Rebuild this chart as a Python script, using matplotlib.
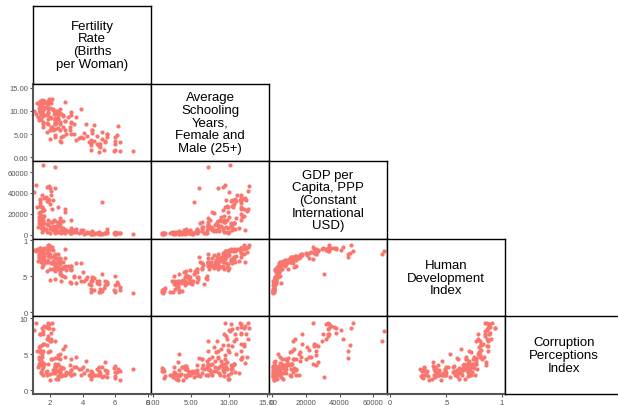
import matplotlib
matplotlib.use('Agg')
import matplotlib.pyplot as plt

plt.rcParams['font.family'] = ['Liberation Sans', 'DejaVu Sans']

# one value per country, same order in every list
fertility = [
    1.95, 1.90, 2.10, 2.05, 2.05, 1.75, 1.65, 1.95, 1.36, 1.37,
    1.22, 1.50, 2.00, 2.95, 1.85, 2.20, 1.84, 1.87, 1.40, 1.05,
    1.50, 1.41, 1.60, 1.40, 1.90, 1.15, 1.50, 1.55, 1.40, 1.80,
    1.40, 1.65, 1.50, 1.30, 2.00, 2.30, 2.50, 1.35, 1.40, 1.60,
    1.50, 1.90, 2.25, 2.30, 1.35, 1.65, 1.35, 1.45, 2.05, 2.60,
    2.50, 2.90, 2.30, 2.60, 1.50, 1.65, 1.40, 1.45, 1.90, 2.50,
    1.60, 1.55, 2.60, 2.20, 1.25, 1.45, 1.80, 1.45, 1.60, 1.85,
    1.55, 2.50, 1.74, 2.60, 2.80, 2.40, 2.30, 2.05, 3.60, 2.10,
    2.30, 3.90, 2.40, 2.60, 1.60, 2.30, 2.30, 1.60, 3.30, 2.30,
    3.30, 2.90, 3.10, 2.80, 1.50, 2.50, 2.80, 2.50, 2.30, 3.30,
    3.20, 2.00, 2.20, 2.70, 2.50, 3.00, 3.30, 1.80, 2.30, 2.60,
    4.00, 5.20, 2.60, 2.65, 6.00, 3.50, 2.80, 4.30, 2.90, 3.50,
    4.60, 3.80, 4.70, 2.30, 4.20, 4.60, 2.00, 5.00, 5.40, 4.60,
    4.50, 3.90, 2.70, 4.10, 4.90, 3.20, 5.50, 6.10, 4.90, 3.30,
    5.50, 3.60, 5.50, 4.40, 6.20, 5.00, 5.40, 6.00, 4.50, 6.30,
    5.30, 4.50, 5.10, 4.70, 6.30, 5.90, 5.20, 6.00, 5.10, 5.00,
    4.50, 7.10, 6.00]

schooling = [
    12.6, 12.0, 12.5, 12.4, 11.6, 11.6, 12.1, 11.6, 12.2, 11.6,
    11.6, 11.0, 10.6, 11.9, 10.3, 10.4, 10.9, 11.4, 10.4, 10.0,
    10.5, 9.7, 10.1, 10.8, 9.6, 9.4, 12.3, 11.6, 11.6, 9.2,
    9.9, 12.0, 9.9, 11.7, 8.6, 7.3, 9.4, 8.0, 10.0, 9.3,
    10.9, 9.7, 9.3, 6.1, 11.5, 10.6, 10.6, 9.0, 8.4, 7.3,
    9.4, 7.8, 8.5, 9.5, 10.6, 9.2, 10.2, 9.3, 8.3, 9.0,
    10.4, 8.8, 10.3, 10.2, 8.7, 11.3, 7.3, 8.2, 7.2, 7.2,
    12.1, 6.2, 10.8, 7.6, 9.2, 7.3, 9.6, 6.5, 8.6, 6.5,
    7.2, 10.4, 9.9, 7.2, 7.5, 7.7, 8.2, 6.6, 7.5, 7.2,
    9.2, 7.7, 8.7, 8.9, 9.7, 8.3, 6.5, 10.0, 8.0, 7.4,
    6.5, 5.8, 5.8, 9.3, 8.5, 4.9, 9.8, 5.5, 4.4, 5.8,
    4.1, 5.4, 3.5, 4.4, 2.8, 7.1, 4.6, 4.5, 5.8, 4.9,
    5.9, 4.2, 7.0, 4.8, 7.1, 5.9, 4.0, 2.5, 3.5, 5.2,
    3.7, 4.3, 3.2, 5.3, 2.8, 5.8, 5.0, 4.7, 4.5, 4.9,
    4.4, 3.8, 5.1, 3.3, 6.7, 2.8, 3.3, 4.3, 3.1, 3.3,
    1.6, 1.5, 2.9, 3.5, 1.4, 1.3, 3.9, 1.5, 2.3, 1.2,
    2.7, 1.4, 3.5]

gdp = [
    47000, 34000, 24500, 42000, 38000, 36500, 35000, 33500, 33000, 30000,
    26000, 38000, 29500, 25000, 32000, 33000, 32000, 33000, 27000, 41000,
    26000, 27000, 66500, 34000, 33000, 48000, 23000, 25000, 20000, 46000,
    22000, 17500, 26000, 17000, 45000, 65000, 26000, 21000, 16500, 18000,
    16000, 13500, 14000, 45000, 14000, 11500, 11500, 16500, 12500, 16000,
    12000, 22000, 13000, 13000, 11500, 24000, 10000, 12500, 10500, 8500,
    7500, 14000, 11000, 8500, 7500, 6500, 10500, 9000, 12000, 9500,
    4500, 11000, 5000, 7500, 6500, 8500, 7000, 7500, 5000, 12500,
    7500, 4000, 6500, 8000, 6500, 6000, 4500, 7500, 14000, 7500,
    4200, 4500, 3300, 13000, 2800, 3500, 5500, 2800, 3000, 6000,
    3700, 5000, 4000, 2000, 9500, 4500, 1800, 2800, 4000, 2500,
    4300, 31000, 3300, 3000, 2300, 4700, 2100, 2200, 1800, 2400,
    3800, 1700, 1500, 1500, 1500, 2100, 1200, 2300, 1400, 950,
    1800, 2100, 1100, 800, 1100, 1500, 2000, 1100, 1700, 1100,
    5500, 2200, 1300, 1600, 1300, 1300, 1100, 800, 2000, 1000,
    1000, 900, 800, 700, 1000, 1100, 370, 1200, 1000, 850,
    350, 650, 300]

hdi = [
    .938, .937, .907, .902, .895, .890, .888, .885, .885, .884,
    .877, .874, .872, .872, .871, .869, .867, .866, .863, .862,
    .855, .854, .852, .851, .849, .846, .841, .828, .818, .815,
    .815, .812, .810, .805, .805, .803, .801, .795, .795, .788,
    .783, .783, .775, .771, .769, .769, .767, .767, .765, .755,
    .755, .752, .750, .744, .743, .736, .735, .732, .725, .723,
    .719, .719, .714, .713, .710, .710, .702, .701, .701, .699,
    .698, .696, .695, .695, .694, .689, .688, .683, .681, .679,
    .677, .677, .669, .663, .663, .659, .658, .654, .648, .646,
    .643, .640, .638, .633, .623, .622, .620, .617, .611, .606,
    .604, .602, .600, .598, .597, .589, .580, .572, .567, .565,
    .560, .538, .534, .519, .502, .498, .497, .494, .494, .490,
    .489, .488, .470, .469, .467, .460, .451, .439, .435, .435,
    .433, .431, .428, .428, .428, .427, .423, .422, .411, .404,
    .403, .402, .398, .397, .395, .390, .385, .385, .379, .349,
    .340, .328, .317, .315, .309, .305, .300, .295, .289, .284,
    .282, .270, .280]

cpi = [
    8.6, 8.7, 9.3, 7.1, 8.0, 8.8, 8.9, 9.2, 7.9, 7.8,
    5.4, 8.7, 6.8, 6.1, 9.2, 8.5, 7.1, 9.3, 6.1, 8.4,
    3.5, 3.9, 8.2, 7.9, 7.6, 9.3, 4.6, 6.4, 4.3, 6.3,
    5.6, 6.5, 6.3, 4.7, 5.5, 6.9, 4.9, 6.0, 5.3, 7.8,
    5.0, 7.2, 2.9, 4.5, 4.3, 3.7, 3.7, 4.1, 6.9, 2.2,
    3.6, 4.7, 3.1, 4.4, 3.6, 3.6, 3.5, 2.5, 5.3, 3.5,
    3.3, 2.1, 2.9, 2.4, 3.2, 2.4, 2.2, 4.1, 5.4, 3.7,
    3.8, 2.0, 2.6, 2.5, 3.1, 3.5, 3.3, 4.3, 4.7, 4.4,
    2.9, 3.0, 1.6, 3.0, 3.5, 3.6, 3.2, 3.5, 2.8, 3.0,
    2.8, 2.2, 2.4, 5.8, 2.9, 2.7, 3.1, 1.6, 2.7, 4.4,
    2.4, 2.3, 2.8, 2.0, 4.5, 2.5, 2.1, 2.7, 3.4, 2.5,
    3.2, 1.9, 5.1, 3.3, 2.5, 3.2, 2.1, 2.8, 2.1, 2.3,
    2.1, 3.0, 2.1, 2.4, 4.1, 2.2, 1.4, 2.2, 2.8, 2.6,
    2.3, 2.1, 2.2, 2.4, 2.1, 3.5, 2.4, 2.5, 2.9, 2.2,
    1.9, 3.2, 2.7, 2.2, 3.0, 3.2, 4.0, 3.4, 1.6, 1.4,
    2.0, 2.7, 2.4, 2.1, 2.7, 3.1, 3.3, 1.7, 2.1, 2.7,
    1.8, 2.9, 2.0]

names = ['Fertility\nRate\n(Births\nper Woman)',
         'Average\nSchooling\nYears,\nFemale and\nMale (25+)',
         'GDP per\nCapita, PPP\n(Constant\nInternational\nUSD)',
         'Human\nDevelopment\nIndex',
         'Corruption\nPerceptions\nIndex']
tick_vals = [[2, 4, 6, 8], [0, 5, 10, 15], [0, 20000, 40000, 60000], [0, .5, 1], [0, 5, 10]]
tick_text = [['2', '4', '6', '8'], ['0.00', '5.00', '10.00', '15.00'],
             ['0', '20000', '40000', '60000'], ['0', '.5', '1'], ['0', '5', '10']]

data = [fertility, schooling, gdp, hdi, cpi]
xlims = [(0.96, 8.2), (-0.2, 15.2), (-1800, 68100), (-0.027, 1.027), None]
ylims = [None, (-0.85, 15.85), (-4100, 70500), (-0.055, 1.018), (-0.51, 10.28)]

W, H = 618, 406
fig = plt.figure(figsize=(W / 100, H / 100), dpi=100)
x0, y0, cw, ch = 33, 7, 118, 77.6
dot = '#f8766d'
grey = '#555555'

for r in range(5):
    for c in range(r + 1):
        ax = fig.add_axes([(x0 + c * cw) / W, (H - y0 - (r + 1) * ch) / H, cw / W, ch / H])
        for s in ax.spines.values():
            s.set_color('black')
            s.set_linewidth(1.0)
        ax.set_xticks([])
        ax.set_yticks([])
        if r == c:
            ax.text(0.5, 0.5, names[r], ha='center', va='center', fontsize=9.5,
                    linespacing=1.08, transform=ax.transAxes)
            continue
        ax.scatter(data[c], data[r], s=9, color=dot, linewidths=0)
        ax.set_xlim(xlims[c])
        ax.set_ylim(ylims[r])
        if c == 0:
            ax.set_yticks(tick_vals[r])
            ax.set_yticklabels(tick_text[r])
            ax.spines['left'].set_color(grey)
            ax.spines['left'].set_linewidth(1.5)
        if r == 4:
            ax.set_xticks(tick_vals[c])
            ax.set_xticklabels(tick_text[c])
            ax.spines['bottom'].set_color(grey)
            ax.spines['bottom'].set_linewidth(1.5)
        ax.tick_params(direction='out', length=2.5, width=0.8, color=grey,
                       labelcolor=grey, labelsize=5.5, pad=1)

fig.savefig('out.png', dpi=100)
